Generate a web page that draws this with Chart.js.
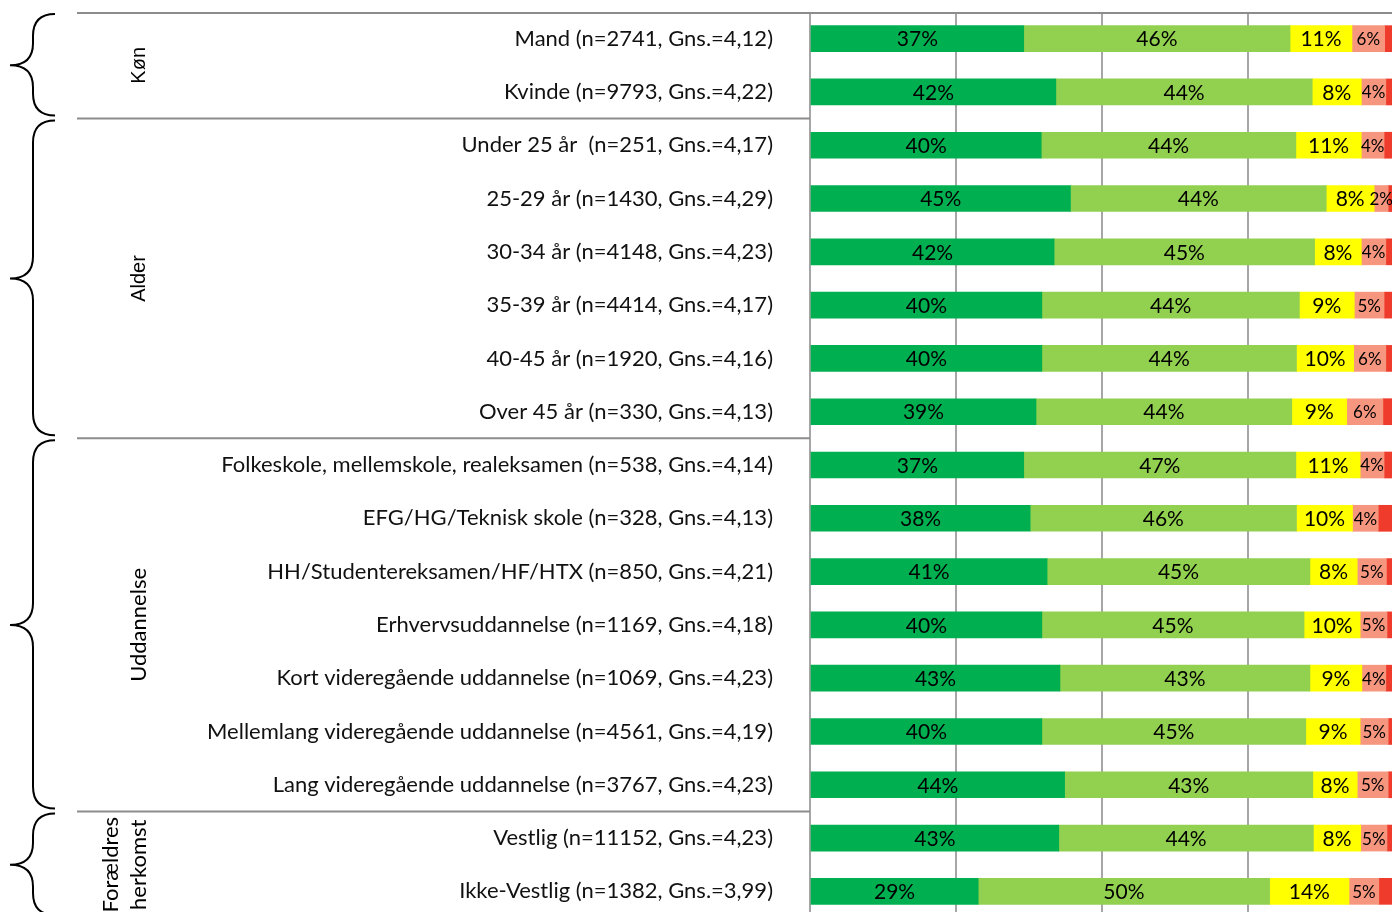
<!DOCTYPE html>
<html>
<head>
<meta charset="utf-8">
<script src="https://cdn.jsdelivr.net/npm/chart.js@4/dist/chart.umd.min.js"></script>
<style>
  html, body { margin: 0; padding: 0; background: #fff; overflow: hidden; }
  #wrap { width: 1400px; height: 920px; }
</style>
</head>
<body>
<div id="wrap"><canvas id="chart" width="1400" height="920"></canvas></div>
<script>
// categories (top to bottom)
const categories = [
  'Mand (n=2741, Gns.=4,12)',
  'Kvinde (n=9793, Gns.=4,22)',
  'Under 25 år  (n=251, Gns.=4,17)',
  '25-29 år (n=1430, Gns.=4,29)',
  '30-34 år (n=4148, Gns.=4,23)',
  '35-39 år (n=4414, Gns.=4,17)',
  '40-45 år (n=1920, Gns.=4,16)',
  'Over 45 år (n=330, Gns.=4,13)',
  'Folkeskole, mellemskole, realeksamen (n=538, Gns.=4,14)',
  'EFG/HG/Teknisk skole (n=328, Gns.=4,13)',
  'HH/Studentereksamen/HF/HTX (n=850, Gns.=4,21)',
  'Erhvervsuddannelse (n=1169, Gns.=4,18)',
  'Kort videregående uddannelse (n=1069, Gns.=4,23)',
  'Mellemlang videregående uddannelse (n=4561, Gns.=4,19)',
  'Lang videregående uddannelse (n=3767, Gns.=4,23)',
  'Vestlig (n=11152, Gns.=4,23)',
  'Ikke-Vestlig (n=1382, Gns.=3,99)'
];

// share per answer level, in percent
const level5 = [36.6, 42.1, 39.6, 44.6, 41.8, 39.7, 39.7, 38.7, 36.6, 37.7, 40.6, 39.7, 42.8, 39.7, 43.6, 42.6, 28.8];
const level4 = [45.6, 43.9, 43.6, 43.8, 44.6, 44.1, 43.6, 43.8, 46.6, 45.6, 45.0, 44.9, 42.8, 45.2, 42.5, 43.6, 49.9];
const level3 = [10.6, 8.4, 11.2, 8.2, 8.0, 9.4, 9.8, 9.4, 11.0, 9.6, 8.1, 9.6, 8.9, 9.3, 7.6, 8.1, 13.6];
const level2 = [5.6, 4.2, 3.9, 2.4, 4.2, 5.1, 5.5, 6.2, 4.1, 4.4, 5.0, 4.6, 4.1, 4.8, 5.3, 4.5, 5.1];
const level1 = [1.6, 1.4, 1.7, 1.0, 1.4, 1.7, 1.4, 1.9, 1.7, 2.7, 1.3, 1.2, 1.4, 1.0, 1.0, 1.2, 2.6];

// groups of rows (first index, last index)
const groupNames = [['Køn'], ['Alder'], ['Uddannelse'], ['Forældres', 'herkomst']];
const groupStart = [0, 2, 8, 15];
const groupEnd = [1, 7, 14, 16];

const FONT = 'Lato, "Open Sans", sans-serif';

const segLabels = {
  id: 'segLabels',
  afterDatasetsDraw(chart) {
    const ctx = chart.ctx;
    ctx.save();
    ctx.fillStyle = '#000';
    ctx.textAlign = 'center';
    ctx.textBaseline = 'middle';
    chart.data.datasets.forEach((ds, i) => {
      if (i > 3) return;
      ctx.font = (i === 3 ? '17px ' : '21px ') + FONT;
      chart.getDatasetMeta(i).data.forEach((bar, j) => {
        const x = (bar.x + bar.base) / 2;
        ctx.fillText(Math.round(ds.data[j]) + '%', x, bar.y + 1);
      });
    });
    ctx.restore();
  }
};

function brace(ctx, xTip, xStem, xEnd, y0, y1, yMid) {
  const r = 22;
  ctx.beginPath();
  ctx.moveTo(xEnd, y0);
  ctx.bezierCurveTo(xStem + 4, y0, xStem, y0 + r * 0.5, xStem, y0 + r);
  ctx.lineTo(xStem, yMid - r);
  ctx.bezierCurveTo(xStem, yMid - 4, xTip + 12, yMid, xTip, yMid);
  ctx.bezierCurveTo(xTip + 12, yMid, xStem, yMid + 4, xStem, yMid + r);
  ctx.lineTo(xStem, y1 - r);
  ctx.bezierCurveTo(xStem, y1 - r * 0.5, xStem + 4, y1, xEnd, y1);
  ctx.stroke();
}

const groupsPlugin = {
  id: 'groups',
  afterDraw(chart) {
    const ctx = chart.ctx;
    const y = chart.scales.y;
    const area = chart.chartArea;
    const step = y.getPixelForValue(1) - y.getPixelForValue(0);
    ctx.save();
    // top border line
    ctx.strokeStyle = '#8c8c8c';
    ctx.lineWidth = 2;
    ctx.beginPath();
    ctx.moveTo(77, area.top + 1);
    ctx.lineTo(area.right, area.top + 1);
    ctx.stroke();
    groupStart.forEach((s, g) => {
      const top = y.getPixelForValue(s) - step / 2;
      const bot = y.getPixelForValue(groupEnd[g]) + step / 2;
      if (g > 0) {
        ctx.strokeStyle = '#8c8c8c';
        ctx.lineWidth = 2;
        ctx.beginPath();
        ctx.moveTo(77, top);
        ctx.lineTo(area.left, top);
        ctx.stroke();
      }
      const mid = (top + bot) / 2;
      ctx.strokeStyle = '#000';
      ctx.lineWidth = 2;
      brace(ctx, 10, 33, 55, top + 2, bot - 3, mid);
      // rotated group label
      const lines = groupNames[g];
      ctx.fillStyle = '#000';
      ctx.font = g < 2 ? '20px "Liberation Sans", Arial, sans-serif' : '22px ' + FONT;
      ctx.textAlign = 'center';
      ctx.textBaseline = 'middle';
      lines.forEach((t, k) => {
        const x = 139 - (lines.length - 1 - k) * 28;
        ctx.save();
        ctx.translate(x, mid);
        ctx.rotate(-Math.PI / 2);
        ctx.fillText(t, 0, 0);
        ctx.restore();
      });
    });
    ctx.restore();
  }
};

const colors = ['#00B050', '#92D050', '#FFFF00', '#F7967F', '#EE3B2B'];
const series = [level5, level4, level3, level2, level1];

new Chart(document.getElementById('chart'), {
  type: 'bar',
  data: {
    labels: categories,
    datasets: series.map((d, i) => ({
      data: d,
      backgroundColor: colors[i],
      borderWidth: 0,
      barThickness: 26
    }))
  },
  options: {
    indexAxis: 'y',
    responsive: false,
    animation: false,
    layout: { padding: { top: 12, right: 6, bottom: 2, left: 0 } },
    plugins: { legend: { display: false }, tooltip: { enabled: false } },
    scales: {
      x: {
        stacked: true,
        min: 0,
        max: 100,
        ticks: { display: false, stepSize: 25 },
        grid: { color: '#a6a6a6', lineWidth: 2, drawTicks: false },
        border: { display: false },
        afterFit(scale) { scale.height = 0; scale.paddingLeft = 0; scale.paddingRight = 0; }
      },
      y: {
        stacked: true,
        grid: { display: false, drawTicks: false },
        border: { display: false },
        ticks: { color: '#111', font: { family: FONT, size: 22 }, padding: 37 },
        afterFit(scale) { scale.width = 810; scale.paddingTop = 0; scale.paddingBottom = 0; }
      }
    }
  },
  plugins: [segLabels, groupsPlugin]
});
</script>
</body>
</html>
